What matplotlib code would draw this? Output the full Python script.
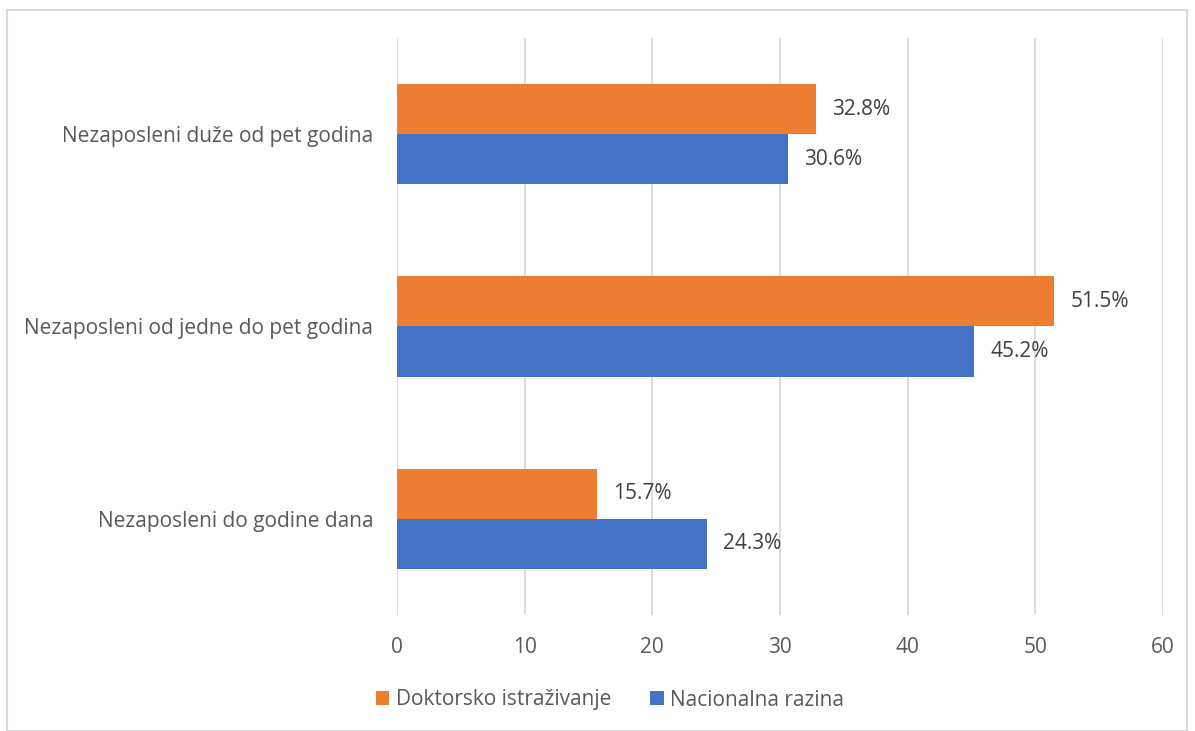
import matplotlib
matplotlib.use("Agg")
import matplotlib.pyplot as plt
from matplotlib.patches import Rectangle, Patch

categories = ["Nezaposleni do godine dana",
              "Nezaposleni od jedne do pet godina",
              "Nezaposleni duže od pet godina"]
doktorsko = [15.7, 51.5, 32.8]
nacionalna = [24.3, 45.2, 30.6]
series_names = ["Doktorsko istraživanje", "Nacionalna razina"]
xticks = [0, 10, 20, 30, 40, 50, 60]

ORANGE = "#ED7D31"
BLUE = "#4472C4"
FONT = ["Open Sans", "DejaVu Sans"]
plt.rcParams['font.family'] = FONT
FS = 15

fig = plt.figure(figsize=(11.95, 7.31), dpi=100)
ax = fig.add_axes([397/1195, 1-615/731, (1163-397)/1195, (615-38)/731])

y = list(range(len(categories)))
h = 0.26
b1 = ax.barh([v + h/2 for v in y], doktorsko, height=h, color=ORANGE, zorder=3)
b2 = ax.barh([v - h/2 for v in y], nacionalna, height=h, color=BLUE, zorder=3)

for bars, vals in ((b1, doktorsko), (b2, nacionalna)):
    for bar, v in zip(bars, vals):
        ax.annotate(f"{v:.1f}%", (bar.get_width(), bar.get_y() + bar.get_height()/2),
                    xytext=(11.5, 0), textcoords="offset points", va="center", ha="left",
                    fontsize=FS, color="#404040")

ax.set_xlim(0, 60)
ax.set_ylim(-0.5, 2.5)
ax.set_xticks(xticks)
ax.set_xticklabels([str(t) for t in xticks], fontsize=FS, color="#595959")
ax.set_yticks(y)
ax.set_yticklabels(categories, fontsize=FS, color="#595959")
ax.tick_params(axis='x', length=0, pad=16)
ax.tick_params(axis='y', length=0, pad=17)
ax.grid(axis='x', color="#D9D9D9", linewidth=1.3, zorder=0)
for s in ax.spines.values():
    s.set_visible(False)

handles = [Patch(facecolor=ORANGE), Patch(facecolor=BLUE)]
fig.legend(handles, series_names, loc="center", bbox_to_anchor=(610/1195, 1-700/731),
           ncol=2, frameon=False, fontsize=FS, handlelength=0.65, handleheight=0.65,
           handletextpad=0.3, columnspacing=1.9, labelcolor="#595959")

fig.patches.append(Rectangle((7/1195, 0), (1187-7)/1195, 1-10/731, transform=fig.transFigure,
                             fill=False, edgecolor="#D9D9D9", linewidth=1.5))

fig.savefig("out.png", dpi=100)
